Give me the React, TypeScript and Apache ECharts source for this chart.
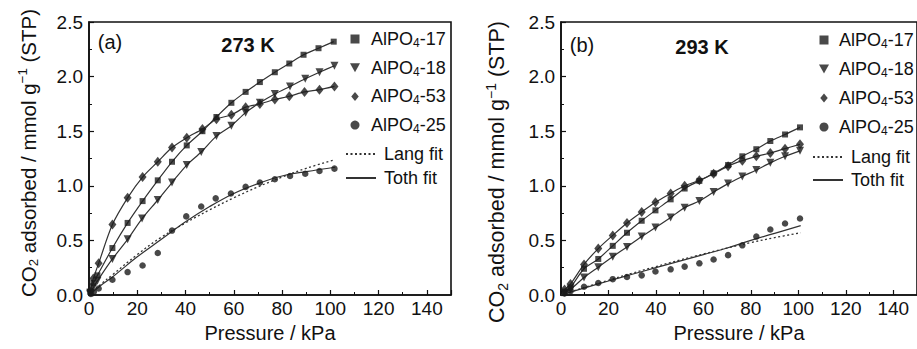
import React, { useEffect, useRef } from "react";
import * as echarts from "echarts";

const FONT = "'Liberation Sans', Arial, Helvetica, sans-serif";

// ---------- Panel (a): 273 K ----------
const p17a = [0.5, 1.8, 3.5, 9.7, 16, 22.2, 28.5, 34.4, 40.5, 47, 52.8, 59, 64.9, 70.8, 77, 83, 88.9, 95.1, 101.4];
const v17a = [0.03, 0.11, 0.18, 0.43, 0.66, 0.86, 1.05, 1.22, 1.37, 1.5, 1.63, 1.76, 1.86, 1.95, 2.04, 2.12, 2.2, 2.26, 2.32];
const p18a = [0.5, 1.8, 3.5, 9.7, 16, 22, 28.5, 34.4, 40.5, 46.5, 52.8, 59, 64.9, 70.8, 77, 83.3, 89.6, 95.5, 101.7];
const v18a = [0.02, 0.07, 0.13, 0.33, 0.51, 0.7, 0.87, 1.03, 1.19, 1.31, 1.455, 1.55, 1.67, 1.76, 1.84, 1.91, 1.98, 2.04, 2.1];
const p53a = [0.5, 1.8, 4, 9.7, 16, 22.2, 28.5, 34.4, 40.5, 47, 52.8, 59, 64.9, 70.8, 77, 83, 89.3, 95.5, 101.7];
const v53a = [0.04, 0.15, 0.29, 0.645, 0.89, 1.08, 1.22, 1.35, 1.44, 1.52, 1.61, 1.65, 1.72, 1.75, 1.79, 1.82, 1.86, 1.88, 1.91];
const p25a = [0.8, 2, 4, 9.7, 16, 22.2, 28.5, 34.4, 40.3, 46.5, 52.5, 58.8, 64.9, 70.8, 77, 83.3, 89.6, 95.5, 101.7];
const v25a = [0.01, 0.03, 0.06, 0.14, 0.21, 0.27, 0.385, 0.59, 0.72, 0.81, 0.885, 0.93, 0.99, 1.03, 1.06, 1.09, 1.11, 1.136, 1.157];
const fitPa = [0, 5, 10, 20, 30, 40, 50, 60, 70, 80, 90, 102];
const toth25a = [0, 0.09, 0.17, 0.35, 0.51, 0.67, 0.81, 0.93, 1.02, 1.09, 1.13, 1.17];
const lang25a = [0, 0.1, 0.19, 0.37, 0.53, 0.66, 0.78, 0.89, 0.99, 1.08, 1.16, 1.24];

// ---------- Panel (b): 293 K ----------
const pB = [1.5, 4, 9.7, 15.7, 21.8, 27.8, 34, 39.8, 46.2, 52.1, 58.3, 64.3, 70.4, 76.4, 82.3, 88.2, 94.4, 100.7];
const v17b = [0.03, 0.07, 0.24, 0.33, 0.45, 0.57, 0.68, 0.775, 0.876, 0.975, 1.045, 1.115, 1.19, 1.27, 1.335, 1.41, 1.47, 1.535];
const v18b = [0.02, 0.05, 0.16, 0.255, 0.35, 0.44, 0.535, 0.617, 0.71, 0.8, 0.86, 0.943, 1.02, 1.085, 1.145, 1.21, 1.27, 1.32];
const v53b = [0.05, 0.1, 0.28, 0.425, 0.546, 0.66, 0.76, 0.85, 0.93, 1.0, 1.05, 1.11, 1.18, 1.23, 1.27, 1.3, 1.34, 1.38];
const v25b = [0.015, 0.035, 0.075, 0.11, 0.145, 0.165, 0.18, 0.215, 0.235, 0.26, 0.29, 0.325, 0.365, 0.455, 0.535, 0.6, 0.655, 0.7];
const fitPb = [0, 10, 20, 30, 40, 50, 60, 70, 80, 90, 101];
const toth25b = [0, 0.065, 0.128, 0.19, 0.25, 0.31, 0.37, 0.43, 0.5, 0.565, 0.635];
const lang25b = [0, 0.07, 0.135, 0.2, 0.26, 0.32, 0.375, 0.43, 0.48, 0.525, 0.57];

const materials = ["AlPO4-17", "AlPO4-18", "AlPO4-53", "AlPO4-25"];
const xTicksMax = 150;
const yTicksMax = 2.5;

const TRI_DOWN = "path://M0,0L10,0L5,9Z";
const SQUARE = "path://M0,0L10,0L10,10L0,10Z";
const DIAMOND = "path://M5,0L10,6L5,12L0,6Z";
const DOT = "path://M5,0A5,5,0,1,1,4.99,0Z";

const symbols: Record<string, any> = {
  "AlPO4-17": { symbol: "rect", size: 6, icon: SQUARE },
  "AlPO4-18": { symbol: TRI_DOWN, size: [8, 8], icon: TRI_DOWN },
  "AlPO4-53": { symbol: "diamond", size: [8, 10], icon: DIAMOND },
  "AlPO4-25": { symbol: "circle", size: 6.5, icon: DOT },
};

const zip = (xs: number[], ys: number[]) => xs.map((x, i) => [x, ys[i]]);

const INK = "#1b1b1b";

function panelSeries(gi: number, sets: { name: string; xs: number[]; ys: number[] }[], toth: number[][], lang: number[][]) {
  const out: any[] = [];
  sets.forEach((s) => {
    if (s.name === "AlPO4-25") return;
    out.push({
      type: "line", name: "Toth fit", xAxisIndex: gi, yAxisIndex: gi,
      data: zip(s.xs, s.ys), showSymbol: false, symbol: "none", smooth: 0.3,
      lineStyle: { color: "#333", width: 1.2 }, itemStyle: { color: "#333" }, z: 2,
    });
  });
  out.push({
    type: "line", name: "Lang fit", xAxisIndex: gi, yAxisIndex: gi, data: lang,
    showSymbol: false, symbol: "none", smooth: 0.4,
    lineStyle: { color: "#333", width: 1.3, type: [2, 2.5] }, itemStyle: { color: "#333" }, z: 2,
  });
  out.push({
    type: "line", name: "Toth fit", xAxisIndex: gi, yAxisIndex: gi, data: toth,
    showSymbol: false, symbol: "none", smooth: 0.4,
    lineStyle: { color: "#333", width: 1.2 }, itemStyle: { color: "#333" }, z: 2,
  });
  sets.forEach((s) => {
    out.push({
      type: "scatter", name: s.name, xAxisIndex: gi, yAxisIndex: gi,
      data: zip(s.xs, s.ys), symbol: symbols[s.name].symbol, symbolSize: symbols[s.name].size,
      itemStyle: { color: INK }, z: 5,
    });
  });
  return out;
}

const tickLabel = { fontSize: 19, color: "#111", fontFamily: FONT };

function xAxis(gi: number) {
  return {
    type: "value", gridIndex: gi, min: 0, max: xTicksMax, interval: 20,
    axisLine: { show: true, lineStyle: { color: "#111", width: 1.6 } },
    axisTick: { show: true, inside: true, length: 5, lineStyle: { color: "#111", width: 1.2 } },
    minorTick: { show: true, splitNumber: 2, length: 3, lineStyle: { color: "#111", width: 1 } },
    splitLine: { show: false },
    axisLabel: { ...tickLabel, margin: 4, showMaxLabel: false, formatter: (v: number) => String(v) },
    name: "Pressure / kPa", nameLocation: "middle", nameGap: 20,
    nameTextStyle: { fontSize: 20, color: "#111", fontFamily: FONT },
  };
}

function yAxis(gi: number) {
  return {
    type: "value", gridIndex: gi, min: 0, max: yTicksMax, interval: 0.5,
    axisLine: { show: true, lineStyle: { color: "#111", width: 1.6 } },
    axisTick: { show: true, inside: true, length: 5, lineStyle: { color: "#111", width: 1.2 } },
    minorTick: { show: true, splitNumber: 2, length: 3, lineStyle: { color: "#111", width: 1 } },
    splitLine: { show: false },
    axisLabel: { ...tickLabel, margin: 6, formatter: (v: number) => v.toFixed(1) },
  };
}

const legendText = {
  fontSize: 18, color: "#111", fontFamily: FONT, lineHeight: 20,
  rich: {
    s: { fontSize: 12, lineHeight: 12, verticalAlign: "bottom", fontFamily: FONT, color: "#111" },
    t: { fontSize: 18, lineHeight: 20, fontFamily: FONT, color: "#111" },
  },
};

const markerLegend = (left: number, top: number, w: number, gap: number) => ({
  orient: "vertical", left, top, padding: 0, itemWidth: w, itemHeight: 9, itemGap: gap,
  selectedMode: false,
  data: materials.map((m) => ({ name: m, icon: symbols[m].icon })),
  formatter: (n: string) => "{t|" + n.replace("AlPO4", "AlPO}{s|4}{t|") + "}",
  textStyle: { ...legendText, padding: [0, 0, 0, 2] },
});

const fitLegend = (left: number, top: number, gap: number) => ({
  orient: "vertical", left, top, padding: 0, itemWidth: 30, itemHeight: 10, itemGap: gap,
  selectedMode: false,
  data: [
    { name: "Lang fit", itemStyle: { opacity: 0 } },
    { name: "Toth fit", itemStyle: { opacity: 0 } },
  ],
  textStyle: { ...legendText, padding: [0, 0, 0, 3] },
});

const yTitleRich = (f: number) => ({
  s: { fontSize: f * 0.65, lineHeight: f * 0.65, verticalAlign: "bottom", fontFamily: FONT, fill: "#111" },
  u: { fontSize: f * 0.65, lineHeight: f * 0.65, verticalAlign: "top", fontFamily: FONT, fill: "#111" },
  t: { fontSize: f, lineHeight: f * 1.2, fontFamily: FONT, fill: "#111" },
});
const Y_TITLE = "{t|CO}{s|2}{t| adsorbed / mmol g}{u|\u22121}{t| (STP)}";

const yTitle = (x: number, y: number, f: number) => ({
  type: "text", x, y, rotation: Math.PI / 2,
  style: { text: Y_TITLE, rich: yTitleRich(f), align: "center", verticalAlign: "middle", fill: "#111", font: `${f}px ${FONT}` },
});

const label = (x: number, y: number, text: string, bold = false) => ({
  type: "text", x, y,
  style: { text, align: "center", verticalAlign: "middle", fill: "#111", font: `${bold ? "bold " : ""}20px ${FONT}` },
});

export default function App() {
  const ref = useRef<HTMLDivElement>(null);
  useEffect(() => {
    document.body.style.margin = "0";
    if (!ref.current) return;
    const chart = echarts.init(ref.current, undefined, { renderer: "svg" });
    const setsA = [
      { name: "AlPO4-17", xs: p17a, ys: v17a },
      { name: "AlPO4-18", xs: p18a, ys: v18a },
      { name: "AlPO4-53", xs: p53a, ys: v53a },
      { name: "AlPO4-25", xs: p25a, ys: v25a },
    ];
    const setsB = [
      { name: "AlPO4-17", xs: pB, ys: v17b },
      { name: "AlPO4-18", xs: pB, ys: v18b },
      { name: "AlPO4-53", xs: pB, ys: v53b },
      { name: "AlPO4-25", xs: pB, ys: v25b },
    ];
    chart.setOption({
      animation: false,
      backgroundColor: "#fff",
      grid: [
        { left: 89, top: 22, width: 362, height: 273, show: true, borderColor: "#111", borderWidth: 1.6, backgroundColor: "transparent" },
        { left: 561, top: 22, width: 362, height: 273, show: true, borderColor: "#111", borderWidth: 1.6, backgroundColor: "transparent" },
      ],
      xAxis: [xAxis(0), xAxis(1)],
      yAxis: [yAxis(0), yAxis(1)],
      legend: [
        markerLegend(350, 29, 18, 8.7),
        fitLegend(345, 144, 4),
        markerLegend(819, 30, 16, 9),
        fitLegend(812, 147, 3),
      ],
      graphic: [
        yTitle(28, 153, 20.5),
        yTitle(497, 172, 21.5),
        label(110, 42, "(a)"),
        label(248, 45, "273 K", true),
        label(582, 45, "(b)"),
        label(702, 47, "293 K", true),
      ],
      series: [
        ...panelSeries(0, setsA, zip(fitPa, toth25a), zip(fitPa, lang25a)),
        ...panelSeries(1, setsB, zip(fitPb, toth25b), zip(fitPb, lang25b)),
      ],
    });
    return () => chart.dispose();
  }, []);
  return <div ref={ref} style={{ width: 917, height: 349 }} />;
}
